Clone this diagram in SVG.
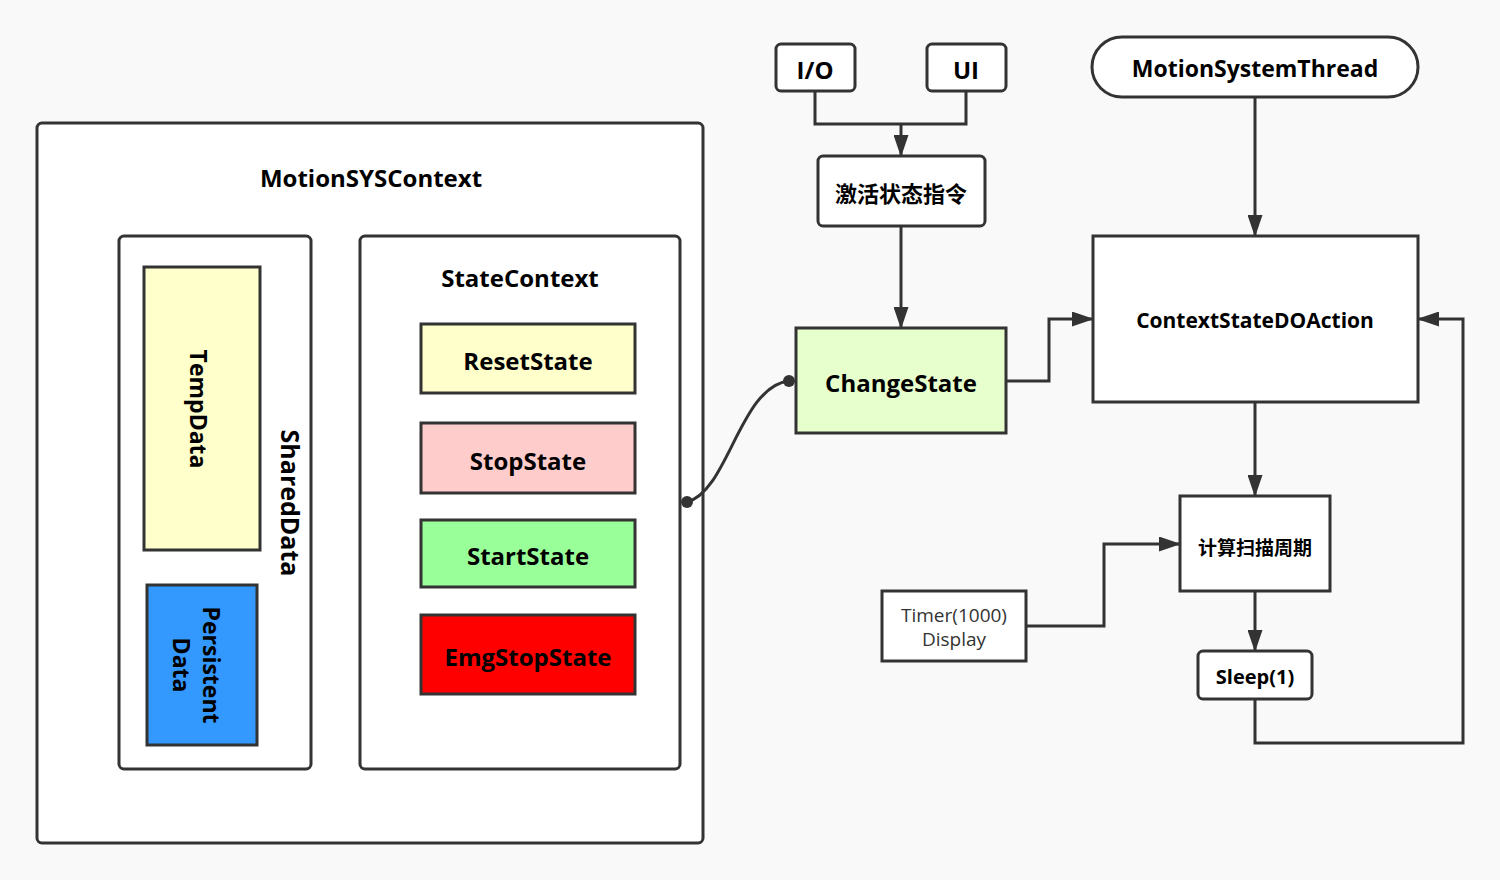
<svg xmlns="http://www.w3.org/2000/svg" width="1500" height="880" viewBox="0 0 1500 880">
<defs>
<style>
.bx{stroke:#333;stroke-width:3;fill:#fff}
.ln{stroke:#333;stroke-width:3;fill:none}
.t{font-family:"Open Sans","Noto Sans CJK SC",sans-serif;font-weight:bold;fill:#000;text-anchor:middle;dominant-baseline:central}
.cn{font-family:"Noto Sans CJK SC",sans-serif;font-weight:bold;fill:#000;text-anchor:middle;dominant-baseline:central}
.n{font-family:"Open Sans","Noto Sans CJK SC",sans-serif;font-weight:normal;fill:#333;text-anchor:middle;font-size:19px}
</style>
<marker id="ar" markerWidth="22" markerHeight="15" refX="21" refY="7.5" orient="auto" markerUnits="userSpaceOnUse" viewBox="0 0 22 15">
<path d="M0,0 L22,7.5 L0,15 Z" fill="#333"/>
</marker>
</defs>
<rect width="1500" height="880" fill="#f9f9f9"/>

<g id="MotionSYSContext">
<rect class="bx" x="37" y="123" width="666" height="720" rx="5"/>
<text class="t" x="371" y="177" font-size="24">MotionSYSContext</text>
</g>
<g id="SharedData">
<rect class="bx" x="119" y="236" width="192" height="533" rx="5"/>
<text class="t" transform="translate(291,503) rotate(90)" font-size="25">SharedData</text>
</g>
<g id="TempData">
<rect class="bx" x="144" y="267" width="116" height="283" style="fill:#ffffcc"/>
<text class="t" transform="translate(199,409) rotate(90)" font-size="23">TempData</text>
</g>
<g id="PersistentData">
<rect class="bx" x="147" y="585" width="110" height="160" style="fill:#3399ff"/>
<text class="t" transform="translate(197,665) rotate(90)" font-size="23"><tspan x="0" dy="-15">Persistent</tspan><tspan x="0" dy="30">Data</tspan></text>
</g>
<g id="StateContext">
<rect class="bx" x="360" y="236" width="320" height="533" rx="5"/>
<text class="t" x="520" y="277" font-size="24">StateContext</text>
</g>
<g id="ResetState">
<rect class="bx" x="421" y="324" width="214" height="69" style="fill:#ffffcc"/>
<text class="t" x="528" y="360" font-size="24">ResetState</text>
</g>
<g id="StopState">
<rect class="bx" x="421" y="423" width="214" height="70" style="fill:#ffcccc"/>
<text class="t" x="528" y="460" font-size="24">StopState</text>
</g>
<g id="StartState">
<rect class="bx" x="421" y="520" width="214" height="67" style="fill:#99ff99"/>
<text class="t" x="528" y="555" font-size="24">StartState</text>
</g>
<g id="EmgStopState">
<rect class="bx" x="421" y="615" width="214" height="79" style="fill:#ff0000"/>
<text class="t" x="528" y="656" font-size="24">EmgStopState</text>
</g>

<g id="IO">
<rect class="bx" x="776" y="44" width="79" height="47" rx="5"/>
<text class="t" x="815" y="69" font-size="24">I/O</text>
</g>
<g id="UI">
<rect class="bx" x="927" y="44" width="79" height="47" rx="5"/>
<text class="t" x="966" y="69" font-size="24">UI</text>
</g>
<g id="ActivateCmd">
<rect class="bx" x="818" y="156" width="167" height="70" rx="5"/>
<text class="cn" x="901" y="192" font-size="22">激活状态指令</text>
</g>
<g id="ChangeState">
<rect class="bx" x="796" y="328" width="210" height="105" style="fill:#e6ffcc"/>
<text class="t" x="901" y="382" font-size="24">ChangeState</text>
</g>
<g id="MotionSystemThread">
<rect class="bx" x="1092" y="37" width="326" height="60" rx="30"/>
<text class="t" x="1255" y="68" font-size="23">MotionSystemThread</text>
</g>
<g id="ContextStateDOAction">
<rect class="bx" x="1093" y="236" width="325" height="166"/>
<text class="t" x="1255" y="320" font-size="21">ContextStateDOAction</text>
</g>
<g id="CalcScan">
<rect class="bx" x="1180" y="496" width="150" height="95"/>
<text class="cn" x="1255" y="546" font-size="19">计算扫描周期</text>
</g>
<g id="Timer">
<rect class="bx" x="882" y="591" width="144" height="70"/>
<text class="n" x="954" y="622">Timer(1000)</text>
<text class="n" x="954" y="646">Display</text>
</g>
<g id="Sleep">
<rect class="bx" x="1198" y="651" width="114" height="48" rx="5"/>
<text class="t" x="1255" y="676" font-size="20">Sleep(1)</text>
</g>

<g id="connectors">
<path class="ln" d="M815,91 V124 H966 V91"/>
<path class="ln" d="M901,124 V156" marker-end="url(#ar)"/>
<path class="ln" d="M901,226 V328" marker-end="url(#ar)"/>
<path class="ln" d="M687,502 C728,492 740,386 789,381"/>
<circle cx="687" cy="502" r="6" fill="#333"/>
<circle cx="789" cy="381" r="6" fill="#333"/>
<path class="ln" d="M1006,381 H1049 V319 H1093" marker-end="url(#ar)"/>
<path class="ln" d="M1255,97 V236" marker-end="url(#ar)"/>
<path class="ln" d="M1255,402 V496" marker-end="url(#ar)"/>
<path class="ln" d="M1026,626 H1104 V544 H1180" marker-end="url(#ar)"/>
<path class="ln" d="M1255,591 V651" marker-end="url(#ar)"/>
<path class="ln" d="M1255,699 V743 H1463 V319 H1418" marker-end="url(#ar)"/>
</g>
</svg>
